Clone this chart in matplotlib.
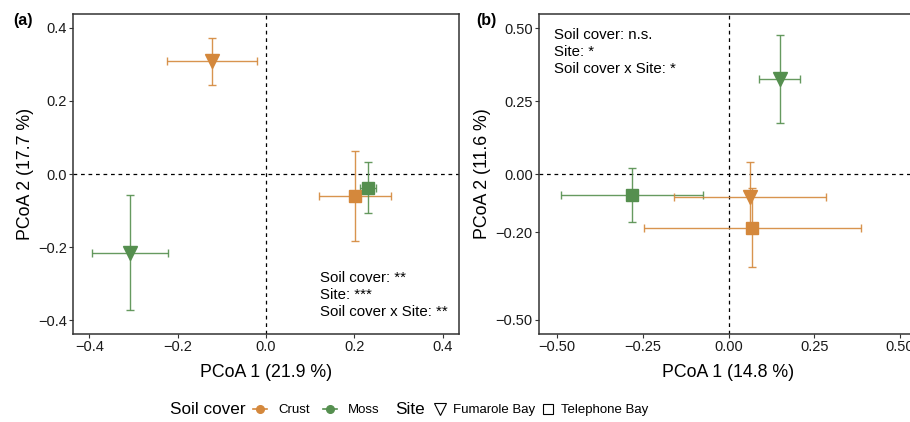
import matplotlib.pyplot as plt
from matplotlib.lines import Line2D

plt.rcParams['font.family'] = ['Liberation Sans', 'DejaVu Sans']

crust_col = '#D4883C'
moss_col = '#558F4F'

# panel (a): groups are (soil cover, site)
a_cover = ['Crust', 'Moss', 'Crust', 'Moss']
a_site = ['Fumarole Bay', 'Fumarole Bay', 'Telephone Bay', 'Telephone Bay']
a_x = [-0.122, -0.308, 0.202, 0.231]
a_y = [0.308, -0.215, -0.060, -0.038]
a_xerr = [0.101, 0.087, 0.082, 0.019]
a_yerr = [0.063, 0.157, 0.124, 0.070]

# panel (b)
b_cover = ['Moss', 'Moss', 'Crust', 'Crust']
b_site = ['Fumarole Bay', 'Telephone Bay', 'Fumarole Bay', 'Telephone Bay']
b_x = [0.149, -0.280, 0.062, 0.069]
b_y = [0.325, -0.072, -0.078, -0.184]
b_xerr = [0.060, 0.207, 0.221, 0.316]
b_yerr = [0.150, 0.091, 0.120, 0.136]

a_xticks = [-0.4, -0.2, 0.0, 0.2, 0.4]
a_yticks = [-0.4, -0.2, 0.0, 0.2, 0.4]
b_xticks = [-0.50, -0.25, 0.00, 0.25, 0.50]
b_yticks = [-0.50, -0.20, 0.00, 0.25, 0.50]

colors = {'Crust': crust_col, 'Moss': moss_col}
markers = {'Fumarole Bay': 'v', 'Telephone Bay': 's'}
msizes = {'Fumarole Bay': 10.5, 'Telephone Bay': 8.5}

fig = plt.figure(figsize=(9.1, 4.22), dpi=100)
axA = fig.add_axes([0.0802, 0.2085, 0.4242, 0.7583])
axB = fig.add_axes([0.5923, 0.2085, 0.4165, 0.7583])


def draw(ax, cover, site, x, y, xerr, yerr):
    ax.axhline(0, color='black', ls=(0, (3, 3)), lw=0.9, zorder=1)
    ax.axvline(0, color='black', ls=(0, (3, 3)), lw=0.9, zorder=1)
    for i in range(len(x)):
        c = colors[cover[i]]
        ax.errorbar(x[i], y[i], xerr=xerr[i], yerr=yerr[i], fmt='none',
                    ecolor=c, elinewidth=1.0, capsize=3, capthick=1.0,
                    alpha=0.9, zorder=2)
        ax.plot(x[i], y[i], marker=markers[site[i]], ms=msizes[site[i]],
                color=c, mec=c, ls='none', zorder=3)
    for s in ax.spines.values():
        s.set_color('#333333')
        s.set_linewidth(1.1)
    ax.tick_params(direction='out', length=3, width=0.8, color='#333333',
                   labelsize=10.5, labelcolor='#1a1a1a', pad=1.5)


draw(axA, a_cover, a_site, a_x, a_y, a_xerr, a_yerr)
axA.set_xlim(-0.437, 0.437)
axA.set_ylim(-0.438, 0.438)
axA.set_xticks(a_xticks)
axA.set_yticks(a_yticks)
axA.set_xticklabels(['\u22120.4', '\u22120.2', '0.0', '0.2', '0.4'])
axA.set_yticklabels(['\u22120.4', '\u22120.2', '0.0', '0.2', '0.4'])
axA.set_xlabel('PCoA 1 (21.9 %)', fontsize=12.8, labelpad=7)
axA.set_ylabel('PCoA 2 (17.7 %)', fontsize=12.8, labelpad=3)
axA.text(0.64, 0.122, 'Soil cover: **\nSite: ***\nSoil cover x Site: **',
         transform=axA.transAxes, ha='left', va='center', fontsize=10.8,
         linespacing=1.28)

draw(axB, b_cover, b_site, b_x, b_y, b_xerr, b_yerr)
axB.set_xlim(-0.552, 0.552)
axB.set_ylim(-0.548, 0.548)
axB.set_xticks(b_xticks)
axB.set_yticks(b_yticks)
axB.set_xticklabels(['\u22120.50', '\u22120.25', '0.00', '0.25', '0.50'])
axB.set_yticklabels(['\u22120.50', '\u22120.20', '0.00', '0.25', '0.50'])
axB.set_xlabel('PCoA 1 (14.8 %)', fontsize=12.8, labelpad=7)
axB.set_ylabel('PCoA 2 (11.6 %)', fontsize=12.8, labelpad=3)
axB.text(0.04, 0.881, 'Soil cover: n.s.\nSite: *\nSoil cover x Site: *',
         transform=axB.transAxes, ha='left', va='center', fontsize=10.8,
         linespacing=1.28)

fig.text(13 / 910, 1 - 20 / 422, '(a)', fontsize=11.5, fontweight='bold', va='center')
fig.text(476 / 910, 1 - 20 / 422, '(b)', fontsize=11.5, fontweight='bold', va='center')

# legend along the bottom: one small legend per key
ly = 1 - 410 / 422
fig.text(170 / 910, ly, 'Soil cover', fontsize=12.3, va='center')
fig.text(395 / 910, ly, 'Site', fontsize=12.3, va='center')

keys = [
    ('Crust', Line2D([], [], color=crust_col, marker='o', ms=5.5, lw=1.2), 252.7, 1.1, 0.82),
    ('Moss', Line2D([], [], color=moss_col, marker='o', ms=5.5, lw=1.2), 322.7, 1.1, 0.82),
    ('Fumarole Bay', Line2D([], [], color='black', marker='v', ms=9, mfc='none',
                            mew=0.8, ls='none'), 433.5, 1.0, 0.48),
    ('Telephone Bay', Line2D([], [], color='black', marker='s', ms=7.5, mfc='none',
                             mew=0.8, ls='none'), 541.5, 1.0, 0.48),
]
for label, h, x0, hl, tp in keys:
    fig.legend([h], [label], loc='center left', bbox_to_anchor=(x0 / 910, ly),
               frameon=False, fontsize=9.5, handlelength=hl, handletextpad=tp,
               borderaxespad=0, borderpad=0)

fig.savefig('out.png', dpi=100)
